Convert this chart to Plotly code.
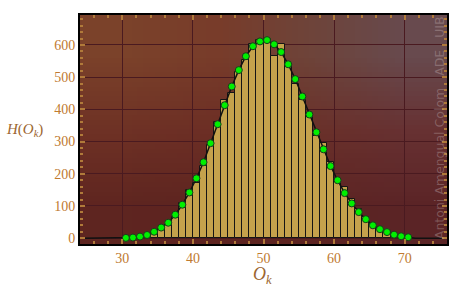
import base64, struct, zlib
import plotly.graph_objects as go

# ---------------- data ----------------
bin_left = list(range(30, 71))  # histogram bins [k, k+1)
counts = [1, 1, 3, 10, 19, 28, 41, 65, 109, 150,
          172, 223, 288, 360, 430, 450, 516, 552, 602, 616,
          620, 567, 602, 540, 479, 430, 384, 317, 295, 238,
          183, 158, 121, 90, 65, 43, 32, 21, 11, 6, 2]
# expected values at bin centres 30.5 .. 70.5
expected = [1, 2, 5, 10, 20, 33, 48, 73, 104, 142,
            186, 236, 295, 354, 413, 471, 522, 565, 596, 611,
            615, 602, 578, 540, 494, 440, 384, 329, 276, 224,
            180, 140, 108, 81, 59, 40, 28, 19, 11, 6, 3]
tail_left = [24.5, 25.5, 26.5, 27.5, 28.5, 29.5]
tail_right = [71.5, 72.5, 73.5, 74.5, 75.5]
x_ticks = [30, 40, 50, 60, 70]
y_ticks = [0, 100, 200, 300, 400, 500, 600]

centres = [b + 0.5 for b in bin_left]
line_x = tail_left + centres + tail_right
line_y = [0] * len(tail_left) + expected + [0] * len(tail_right)

# ------------- background gradient image -------------
bg_rows = [
    [(0x7b, 0x42, 0x2a), (0x78, 0x3c, 0x2a), (0x6e, 0x44, 0x3a), (0x68, 0x4a, 0x4e)],
    [(0x6e, 0x31, 0x25), (0x6c, 0x2e, 0x25), (0x6a, 0x30, 0x29), (0x67, 0x31, 0x32)],
    [(0x5e, 0x25, 0x20), (0x5e, 0x24, 0x20), (0x5d, 0x24, 0x22), (0x5b, 0x24, 0x26)],
]


def png_uri(rows):
    h = len(rows)
    w = len(rows[0])
    raw = b"".join(b"\x00" + bytes(c for px in row for c in px) for row in rows)

    def chunk(t, d):
        return struct.pack(">I", len(d)) + t + d + struct.pack(">I", zlib.crc32(t + d) & 0xFFFFFFFF)

    png = (b"\x89PNG\r\n\x1a\n"
           + chunk(b"IHDR", struct.pack(">IIBBBBB", w, h, 8, 2, 0, 0, 0))
           + chunk(b"IDAT", zlib.compress(raw))
           + chunk(b"IEND", b""))
    return "data:image/png;base64," + base64.b64encode(png).decode()


fig = go.Figure()

fig.add_trace(go.Bar(
    x=centres, y=counts, width=1,
    marker=dict(color="#c4a24c", line=dict(color="#151515", width=1)),
    hoverinfo="skip",
))
fig.add_trace(go.Scatter(
    x=line_x, y=line_y, mode="lines",
    line=dict(color="#111111", width=1.5),
    hoverinfo="skip",
))
fig.add_trace(go.Scatter(
    x=centres, y=expected, mode="markers",
    marker=dict(color="#00f000", size=7, line=dict(color="#1c3a1c", width=1)),
    hoverinfo="skip",
))

tick_col = "#b07a3a"
label_col = "#c07a30"
fig.update_layout(
    width=450, height=297,
    margin=dict(l=80, r=1, t=15, b=53),
    paper_bgcolor="white",
    plot_bgcolor="#6a2e26",
    showlegend=False,
    bargap=0,
    images=[dict(source=png_uri(bg_rows), xref="paper", yref="paper",
                 x=0, y=1, sizex=1, sizey=1, sizing="stretch",
                 xanchor="left", yanchor="top", layer="below")],
    font=dict(family="Liberation Serif", size=14, color=label_col),
)
fig.update_xaxes(
    range=[24, 76], tickvals=x_ticks, ticktext=[str(v) for v in x_ticks],
    showgrid=True, gridcolor="#4a1a20", gridwidth=1, zeroline=False,
    showline=True, linecolor="black", linewidth=2, mirror="allticks",
    ticks="inside", ticklen=5, tickcolor=tick_col, tickwidth=2,
    minor=dict(dtick=2, tick0=0, ticks="inside", ticklen=3, tickcolor=tick_col, tickwidth=2, showgrid=False),
    tickfont=dict(family="Liberation Serif", size=14, color=label_col),
)
fig.update_yaxes(
    range=[-18, 693], tickvals=y_ticks, ticktext=[str(v) for v in y_ticks],
    showgrid=True, gridcolor="#4a1a20", gridwidth=1, zeroline=False,
    showline=True, linecolor="black", linewidth=2, mirror="allticks",
    ticks="inside", ticklen=5, tickcolor=tick_col, tickwidth=2,
    minor=dict(dtick=20, tick0=0, ticks="inside", ticklen=3, tickcolor=tick_col, tickwidth=2, showgrid=False),
    tickfont=dict(family="Liberation Serif", size=14, color=label_col),
)

fig.add_annotation(
    text="<i>H</i>(<i>O</i><sub><i>k</i></sub>)", xref="paper", yref="paper",
    x=-0.15, y=0.5, xanchor="center", yanchor="middle", showarrow=False,
    font=dict(family="Liberation Serif", size=15, color="#9c6630"),
)
fig.add_annotation(
    text="<i>O</i><sub><i>k</i></sub>", xref="paper", yref="paper",
    x=0.496, y=-0.138, xanchor="center", yanchor="middle", showarrow=False,
    font=dict(family="Liberation Serif", size=18, color="#9c6630"),
)
fig.add_annotation(
    text="Antoni Amengual Colom   ADE   UIB", xref="paper", yref="paper",
    x=0.978, y=0.51, xanchor="center", yanchor="middle", showarrow=False,
    textangle=-90,
    font=dict(family="DejaVu Sans", size=12.5, color="rgba(200,185,185,0.35)"),
)

fig.write_html("out.html")
